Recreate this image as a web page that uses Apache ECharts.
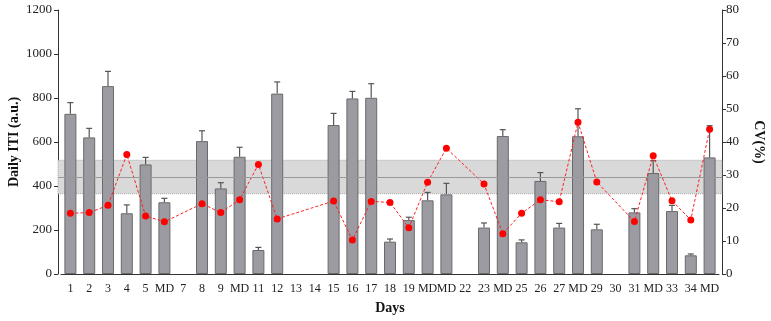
<!DOCTYPE html>
<html>
<head>
<meta charset="utf-8">
<script src="https://cdn.jsdelivr.net/npm/echarts@6/dist/echarts.min.js"></script>
<style>
  html, body { margin: 0; padding: 0; background: #fff; }
  #chart { width: 771px; height: 321px; }
</style>
</head>
<body>
<div id="chart"></div>
<script>
// days on the x axis
var days = ['1','2','3','4','5','MD','7','8','9','MD','11','12','13','14','15','16','17','18','19','MD','MD','22','23','MD','25','26','27','MD','29','30','31','MD','33','34','MD'];

// daily ITI (a.u.), mean
var itiMean = [728, 621, 854, 276, 498, 326, null, 604, 389, 533, 109, 820, null, null, 677, 798, 801, 147, 245, 335, 362, null, 211, 627, 144, 423, 211, 626, 203, null, 280, 459, 286, 85, 530];
// daily ITI, top of error bar (mean + sd)
var itiUpper = [779, 662, 921, 314, 530, 344, null, 651, 415, 576, 121, 873, null, null, 730, 830, 865, 159, 258, 371, 412, null, 232, 656, 155, 461, 230, 751, 226, null, 297, 515, 312, 91, 674];

// CV (%)
var cv = [18.4, 18.6, 20.8, 36.2, 17.6, 15.8, null, 21.3, 18.6, 22.5, 33.2, 16.7, null, null, 22.1, 10.3, 22.0, 21.7, 14.0, 27.8, 38.1, null, 27.3, 12.2, 18.4, 22.5, 21.9, 46.0, 27.9, null, 15.9, 35.8, 22.2, 16.4, 43.9];

// reference band (mean +/- sd)
var bandLow = 365;
var bandMid = 441;
var bandHigh = 517;

var errData = [];
itiMean.forEach(function (v, i) {
    if (v != null) errData.push([i, v, itiUpper[i]]);
});

var font = 'Liberation Serif';
var chart = echarts.init(document.getElementById('chart'));

var option = {
    animation: false,
    textStyle: { fontFamily: font },
    grid: { left: 61, right: 52, top: 10, bottom: 47, outerBoundsMode: 'none' },
    xAxis: {
        type: 'category',
        data: days,
        name: 'Days',
        nameLocation: 'middle',
        nameGap: 27,
        nameTextStyle: { fontFamily: font, fontWeight: 'bold', fontSize: 14, color: '#111' },
        axisLine: { lineStyle: { color: '#333' } },
        axisTick: { alignWithLabel: true, length: 4, lineStyle: { color: '#333' } },
        axisLabel: { interval: 0, fontFamily: font, fontSize: 12, color: '#222', margin: 9 }
    },
    yAxis: [
        {
            type: 'value',
            min: 0, max: 1200, interval: 200,
            offset: 3,
            name: 'Daily ITI (a.u.)',
            nameLocation: 'middle',
            nameGap: 37,
            nameMoveOverlap: false,
            nameRotate: 90,
            nameTextStyle: { fontFamily: font, fontWeight: 'bold', fontSize: 14, color: '#111' },
            axisLine: { show: true, lineStyle: { color: '#333' } },
            axisTick: { show: true, length: 4, lineStyle: { color: '#333' } },
            axisLabel: {
                fontFamily: font, fontSize: 13, color: '#222', margin: 6,
                formatter: function (v) { return String(v); }
            },
            splitLine: { show: false }
        },
        {
            type: 'value',
            min: 0, max: 80, interval: 10,
            offset: 3,
            position: 'right',
            name: 'CV(%)',
            nameLocation: 'middle',
            nameGap: 30,
            nameMoveOverlap: false,
            nameRotate: -90,
            nameTextStyle: { fontFamily: font, fontWeight: 'bold', fontSize: 14, color: '#111' },
            axisLine: { show: true, lineStyle: { color: '#333' } },
            axisTick: { show: true, length: 4, lineStyle: { color: '#333' } },
            axisLabel: { fontFamily: font, fontSize: 13, color: '#222', margin: 4 },
            splitLine: { show: false }
        }
    ],
    series: [
        {
            // band behind everything
            type: 'line',
            data: [],
            z: 0,
            silent: true,
            markArea: {
                silent: true,
                itemStyle: { color: '#d9d9d9', borderColor: '#aaa', borderWidth: 1, borderType: 'dotted' },
                data: [[{ yAxis: bandLow, x: 58 }, { yAxis: bandHigh, x: 722 }]]
            },
            markLine: {
                silent: true,
                symbol: 'none',
                label: { show: false },
                lineStyle: { color: '#999', type: 'solid', width: 1.2 },
                data: [[{ yAxis: bandMid, x: 58 }, { yAxis: bandMid, x: 722 }]]
            }
        },
        {
            name: 'ITI',
            type: 'bar',
            data: itiMean,
            barWidth: 12,
            z: 2,
            itemStyle: { color: '#9c9ba1', borderColor: '#6a6a6e', borderWidth: 1 }
        },
        {
            type: 'custom',
            z: 3,
            data: errData,
            encode: { x: 0, y: [1, 2] },
            renderItem: function (params, api) {
                var x = api.value(0);
                var base = api.coord([x, api.value(1)]);
                var top = api.coord([x, api.value(2)]);
                var w = 3;
                var st = { stroke: '#555', lineWidth: 1.2 };
                return {
                    type: 'group',
                    children: [
                        { type: 'line', shape: { x1: base[0], y1: base[1], x2: top[0], y2: top[1] }, style: st },
                        { type: 'line', shape: { x1: top[0] - w, y1: top[1], x2: top[0] + w, y2: top[1] }, style: st }
                    ]
                };
            }
        },
        {
            name: 'CV',
            type: 'line',
            yAxisIndex: 1,
            data: cv,
            z: 4,
            connectNulls: true,
            symbol: 'circle',
            symbolSize: 7,
            itemStyle: { color: '#ff0000' },
            lineStyle: { color: '#ff2020', width: 1, type: [3, 2] }
        }
    ]
};

chart.setOption(option);
</script>
</body>
</html>
